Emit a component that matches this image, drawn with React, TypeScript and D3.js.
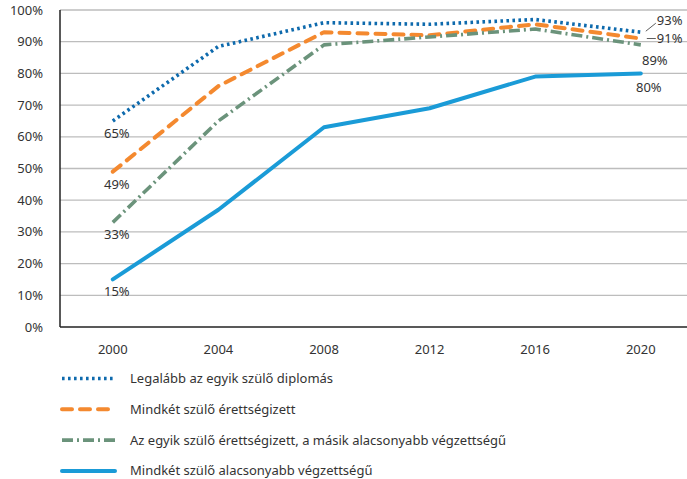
import React from "react";
import { scalePoint, scaleLinear, line, curveLinear } from "d3";

const width = 687;
const height = 479;
const margin = { top: 10, right: 0, bottom: 152, left: 60 };
const innerWidth = width - margin.left - margin.right;
const innerHeight = height - margin.top - margin.bottom;

const years = ["2000", "2004", "2008", "2012", "2016", "2020"];
const yTicks = [0, 10, 20, 30, 40, 50, 60, 70, 80, 90, 100];

const seriesNames = [
  "Legalább az egyik szülő diplomás",
  "Mindkét szülő érettségizett",
  "Az egyik szülő érettségizett, a másik alacsonyabb végzettségű",
  "Mindkét szülő alacsonyabb végzettségű",
];
const diplomas = [65, 88.5, 96, 95.5, 97, 93];
const erettsegi = [49, 76, 93, 92, 95.5, 91];
const vegyes = [33, 65, 89, 91.5, 94, 89];
const alacsony = [15, 37, 63, 69, 79, 80];

const colors = ["#0e6aad", "#f4892f", "#6b937b", "#1a9bd7"];
const dashes = ["2.6 3.4", "10 8", "11 4 2 4", ""];
const caps: ("butt" | "round")[] = ["butt", "round", "butt", "round"];
const widths = [3.6, 4, 3.6, 4];

const font = "'Noto Sans', sans-serif";

export default function App() {
  const allSeries = [diplomas, erettsegi, vegyes, alacsony];

  const xScale = scalePoint<string>()
    .domain(years)
    .range([0, 105.6 * 6])
    .padding(0.5);

  const yScale = scaleLinear().domain([0, 100]).range([innerHeight, 0]);

  const lineGen = line<number>()
    .x((_, i) => xScale(years[i]) as number)
    .y((d) => yScale(d))
    .curve(curveLinear);

  const firstX = xScale(years[0]) as number;
  const lastX = xScale(years[years.length - 1]) as number;

  return (
    <svg
      width={width}
      height={height}
      style={{ position: "absolute", left: 0, top: 0, fontFamily: font }}
    >
      <g transform={`translate(${margin.left}, ${margin.top})`}>
        {yTicks.map((t) => (
          <g key={t} transform={`translate(0,${yScale(t)})`}>
            {t > 0 && (
              <line x2={innerWidth} stroke="#bdbdbd" strokeWidth={1.3} />
            )}
            <text
              x={-17}
              dy=".35em"
              fontSize={13}
              fill="#333"
              textAnchor="end"
            >
              {t}%
            </text>
          </g>
        ))}
        <line y1={0} y2={innerHeight} stroke="#222" strokeWidth={1.5} />
        <line
          y1={innerHeight}
          y2={innerHeight}
          x2={innerWidth}
          stroke="#222"
          strokeWidth={1.5}
        />
        {years.map((y) => (
          <text
            key={y}
            x={xScale(y)}
            y={innerHeight + 27}
            fontSize={13}
            fill="#333"
            textAnchor="middle"
          >
            {y}
          </text>
        ))}
        {allSeries.map((s, i) => (
          <path
            key={i}
            d={lineGen(s) || ""}
            fill="none"
            stroke={colors[i]}
            strokeWidth={widths[i]}
            strokeDasharray={dashes[i]}
            strokeLinecap={caps[i]}
            strokeLinejoin="round"
          />
        ))}
        {allSeries.map((s, i) => (
          <text
            key={"f" + i}
            x={firstX + 4}
            y={yScale(s[0]) + 17}
            fontSize={13}
            fill="#333"
            textAnchor="middle"
          >
            {s[0]}%
          </text>
        ))}
        {/* end labels */}
        <line
          x1={lastX + 5}
          y1={yScale(diplomas[5]) - 1}
          x2={lastX + 15}
          y2={yScale(diplomas[5]) - 9}
          stroke="#333"
          strokeWidth={0.8}
        />
        <text
          x={lastX + 16}
          y={yScale(diplomas[5]) - 7}
          fontSize={13}
          fill="#333"
        >
          {diplomas[5]}%
        </text>
        <line
          x1={lastX + 6}
          y1={yScale(erettsegi[5])}
          x2={lastX + 15}
          y2={yScale(erettsegi[5])}
          stroke="#333"
          strokeWidth={0.8}
        />
        <text
          x={lastX + 16}
          y={yScale(erettsegi[5]) + 4.5}
          fontSize={13}
          fill="#333"
        >
          {erettsegi[5]}%
        </text>
        <text
          x={lastX + 14}
          y={yScale(vegyes[5]) + 20}
          fontSize={13}
          fill="#333"
          textAnchor="middle"
        >
          {vegyes[5]}%
        </text>
        <text
          x={lastX + 8}
          y={yScale(alacsony[5]) + 19}
          fontSize={13}
          fill="#333"
          textAnchor="middle"
        >
          {alacsony[5]}%
        </text>
      </g>
      {/* legend */}
      {seriesNames.map((name, i) => (
        <g key={name} transform={`translate(60, ${378.5 + i * 30.8})`}>
          <line
            x1={2}
            x2={55}
            stroke={colors[i]}
            strokeWidth={widths[i]}
            strokeDasharray={dashes[i]}
            strokeLinecap={caps[i]}
          />
          <text x={70} dy=".35em" fontSize={13} fill="#333">
            {name}
          </text>
        </g>
      ))}
    </svg>
  );
}
